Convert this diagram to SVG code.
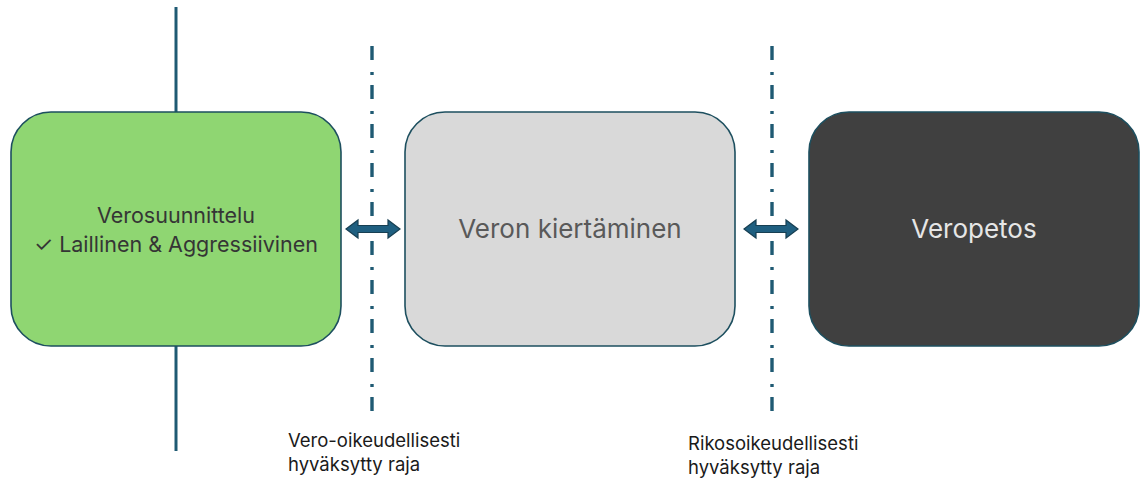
<svg xmlns="http://www.w3.org/2000/svg" width="1141" height="481" viewBox="0 0 1141 481">
<style>
.box{stroke:#1d4f5f;stroke-width:1.6}
.t{font-family:Inter,"Noto Sans","Liberation Sans",sans-serif;text-anchor:middle}
.lbl{font-family:Inter,"Noto Sans","Liberation Sans",sans-serif;font-size:18.5px;fill:#1a1a1a}
.solid{stroke:#1f5a73;stroke-width:3;fill:none}
.dd{stroke:#1f5a73;stroke-width:3.4;fill:none;stroke-dasharray:14 12 3 10}
.arr{fill:#1f5f80;stroke:#173f52;stroke-width:1.2}
</style>
<rect width="1141" height="481" fill="#ffffff"/>
<g id="connectors">
<line class="solid" x1="176" y1="7" x2="176" y2="112"/>
<line class="solid" x1="176" y1="346" x2="176" y2="451"/>
<line class="dd" x1="372" y1="46" x2="372" y2="420"/>
<line class="dd" x1="772" y1="46" x2="772" y2="420"/>
<path class="arr" d="M346,229 L358,220 L358,225.5 L388,225.5 L388,220 L400,229 L388,238 L388,232.5 L358,232.5 L358,238 Z"/>
<path class="arr" d="M744,229 L756,220 L756,225.5 L786,225.5 L786,220 L798,229 L786,238 L786,232.5 L756,232.5 L756,238 Z"/>
</g>
<g id="node-verosuunnittelu">
<rect class="box" x="11" y="112" width="330" height="234" rx="40" fill="#8fd672"/>
<text class="t" x="176" y="223" font-size="21.5" fill="#353535">Verosuunnittelu</text>
<text class="t" x="176" y="252" font-size="21.5" fill="#353535">✓ Laillinen &amp; Aggressiivinen</text>
</g>
<g id="node-kiertaminen">
<rect class="box" x="405" y="112" width="330" height="234" rx="40" fill="#d9d9d9"/>
<text class="t" x="570" y="238" font-size="26" fill="#595959">Veron kiertäminen</text>
</g>
<g id="node-veropetos">
<rect class="box" x="809" y="112" width="330" height="234" rx="40" fill="#404040"/>
<text class="t" x="974" y="238" font-size="26" fill="#e6e6e6">Veropetos</text>
</g>
<g id="labels">
<text class="lbl" x="288" y="447">Vero-oikeudellisesti</text>
<text class="lbl" x="288" y="471">hyväksytty raja</text>
<text class="lbl" x="688" y="450">Rikosoikeudellisesti</text>
<text class="lbl" x="688" y="474">hyväksytty raja</text>
</g>
</svg>
